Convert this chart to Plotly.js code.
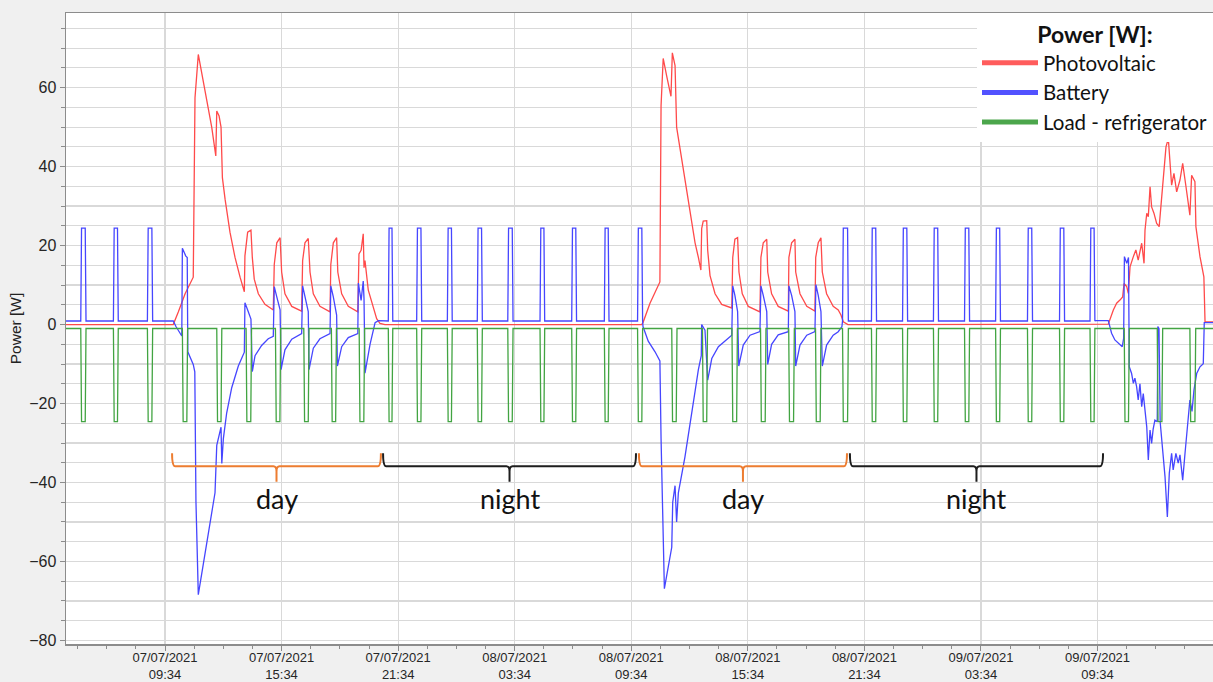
<!DOCTYPE html>
<html><head><meta charset="utf-8">
<script src="https://cdn.plot.ly/plotly-3.0.1.min.js"></script>
<style>html,body{margin:0;padding:0;background:#f0f0f0;}#chart{width:1213px;height:682px;}</style>
</head><body><div id="chart"></div>
<script>
// ---- time axis: hours since 07/07/2021 00:00 ----
const xStart = 4.47, xEnd = 63.51;
const tickHours = [9.5667, 15.5667, 21.5667, 27.5667, 33.5667, 39.5667, 45.5667, 51.5667, 57.5667];
const tickDates = ['07/07/2021','07/07/2021','07/07/2021','08/07/2021','08/07/2021','08/07/2021','08/07/2021','09/07/2021','09/07/2021'];
const tickTimes = ['09:34','15:34','21:34','03:34','09:34','15:34','21:34','03:34','09:34'];

// ---- Load - refrigerator: compressor cycles (start/end, hours) ----
const fridgeStart = [5.23, 6.91, 8.66, 10.46, 12.23, 13.74, 15.25, 16.71, 18.13, 19.56, 21.06, 22.52, 24.10, 25.64, 27.21, 28.87, 30.50, 32.18, 33.89, 35.65, 37.23, 38.75, 40.22, 41.67, 43.05, 44.44, 45.93, 47.53, 49.12, 50.72, 52.32, 53.96, 55.61, 57.18, 58.94, 60.64, 62.32];
const fridgeEnd   = [5.50, 7.16, 8.93, 10.73, 12.49, 14.02, 15.52, 16.98, 18.39, 19.84, 21.29, 22.78, 24.35, 25.90, 27.48, 29.11, 30.75, 32.42, 34.15, 35.92, 37.49, 39.03, 40.50, 41.96, 43.33, 44.74, 46.19, 47.79, 49.38, 50.98, 52.57, 54.22, 55.87, 57.43, 59.20, 60.92, 62.62];
const loadIdle = -1.0, loadRunning = -24.6;

// ---- Battery ----
const batteryIdle = 0.9, batteryFridge = 24.4;
const batteryDay1Time  = [9.99, 10.13, 10.43, 10.46, 10.63, 10.71, 10.74, 11.02, 11.10, 11.16, 11.28, 12.14, 12.23, 12.45, 12.49, 12.57, 12.74, 13.00, 13.34, 13.65, 13.68, 13.82, 13.99, 14.06, 14.20, 14.54, 14.88, 15.14, 15.19, 15.32, 15.49, 15.54, 15.74, 16.09, 16.60, 16.65, 16.77, 16.94, 16.98, 17.20, 17.54, 18.06, 18.10, 18.23, 18.40, 18.44, 18.66, 19.00, 19.49, 19.52, 19.66, 19.77, 19.81, 19.86, 20.12, 20.38, 20.55, 20.89];
const batteryDay1Power = [0.9, -0.5, -2.9, 19.3, 17.4, 17.0, -6.9, -10.1, -12.0, -45, -68.4, -42.6, -30.6, -26.0, -35.2, -28.9, -22.4, -16.0, -10.5, -7.0, 5.5, 3.7, 1.4, -11.9, -7.9, -5.3, -3.6, -3.0, 9.6, 7.0, 3.7, -11.4, -6.4, -3.7, -2.3, 9.8, 7.4, 3.3, -11.4, -6.0, -3.6, -2.3, 9.8, 7.0, 2.4, -10.5, -5.6, -3.3, -2.3, 10.5, 6.1, 11.0, 6.5, -12.3, -5.0, 0.5, 1.0, 0.9];
const batteryDay2Time  = [34.17, 34.44, 34.79, 35.04, 35.10, 35.27, 35.65, 35.70, 35.82, 35.90, 35.99, 36.33, 36.68, 36.85, 37.02, 37.17, 37.19, 37.36, 37.50, 37.71, 38.05, 38.74, 38.79, 38.90, 39.04, 39.10, 39.33, 39.68, 40.19, 40.24, 40.36, 40.54, 40.59, 40.79, 41.13, 41.65, 41.68, 41.82, 41.99, 42.03, 42.25, 42.60, 43.02, 43.07, 43.19, 43.33, 43.40, 43.62, 43.96, 44.22, 44.41];
const batteryDay2Power = [-0.5, -4.2, -6.9, -9.2, -28.9, -66.9, -56.4, -45.0, -40.8, -50.0, -42.6, -33.5, -21.5, -16.9, -11.4, -7.9, 0.0, -1.4, -14.1, -8.6, -5.6, -2.7, 9.8, 7.4, 3.3, -10.5, -5.2, -2.7, -1.8, 9.8, 7.4, 3.3, -10.1, -5.0, -2.6, -1.8, 9.8, 7.4, 3.3, -10.5, -5.2, -2.7, -1.8, 10.1, 7.4, 3.3, -10.5, -5.2, -2.7, -1.8, -0.5];
const batteryDay3Time  = [57.46, 58.12, 58.29, 58.46, 58.72, 58.84, 58.91, 58.95, 59.07, 59.16, 59.20, 59.32, 59.41, 59.49, 59.58, 59.66, 59.75, 59.84, 59.92, 60.01, 60.10, 60.18, 60.27, 60.35, 60.43, 60.52, 60.64, 60.67, 60.73, 60.79, 60.92, 61.04, 61.16, 61.26, 61.38, 61.46, 61.60, 61.72, 61.81, 61.95, 62.07, 62.24, 62.32, 62.43, 62.53, 62.67, 62.84, 63.01, 63.06, 63.51];
const batteryDay3Power = [1.0, 1.0, -2.2, -3.9, -5.2, -5.6, -3.5, 17.2, 15.5, 17.0, -10.7, -12.4, -14.9, -13.6, -15.8, -19.1, -15.0, -20.8, -17.5, -22.5, -25.9, -34.3, -26.7, -30.1, -26.5, -24.2, -24.6, -0.5, -1.0, -24.6, -32.6, -38.5, -48.7, -37.7, -32.6, -36.8, -32.6, -35.1, -33.0, -39.4, -32.6, -24.2, -19.1, -22.0, -16.6, -12.4, -10.7, -9.9, 0.5, 0.5];

// ---- Photovoltaic ----
const pvTime = [4.47, 9.99, 10.25, 10.60, 11.02, 11.11, 11.28, 11.63, 11.97, 12.18, 12.23, 12.35, 12.45, 12.52, 12.66, 12.91, 13.17, 13.43, 13.65, 13.68, 13.82, 13.99, 14.06, 14.16, 14.37, 14.71, 15.14, 15.19, 15.32, 15.49, 15.57, 15.74, 16.09, 16.60, 16.65, 16.77, 16.94, 17.03, 17.20, 17.54, 18.06, 18.10, 18.23, 18.40, 18.46, 18.66, 19.00, 19.49, 19.55, 19.66, 19.77, 19.81, 19.86, 20.03, 20.29, 20.46, 20.63, 20.89,
  34.10, 34.17, 34.53, 34.79, 35.04, 35.10, 35.21, 35.39, 35.61, 35.68, 35.82, 35.90, 36.16, 36.42, 36.68, 36.85, 37.02, 37.15, 37.19, 37.27, 37.45, 37.50, 37.62, 37.88, 38.22, 38.74, 38.79, 38.90, 39.04, 39.11, 39.28, 39.59, 40.19, 40.24, 40.36, 40.54, 40.59, 40.79, 41.13, 41.65, 41.68, 41.82, 41.99, 42.03, 42.25, 42.60, 43.02, 43.06, 43.19, 43.33, 43.40, 43.62, 43.96, 44.22, 44.36, 44.48, 44.72,
  58.12, 58.38, 58.55, 58.72, 58.86, 58.93, 59.07, 59.15, 59.24, 59.41, 59.54, 59.66, 59.84, 59.96, 60.01, 60.10, 60.18, 60.27, 60.35, 60.47, 60.61, 60.74, 60.87, 60.95, 61.09, 61.21, 61.29, 61.38, 61.50, 61.64, 61.81, 61.95, 62.12, 62.32, 62.41, 62.58, 62.63, 62.84, 63.04, 63.10, 63.51];
const pvPower = [0, 0, 3.2, 7.8, 12.0, 57.4, 68.4, 59.2, 50.0, 42.7, 54.1, 52.8, 50.0, 37.2, 31.7, 23.4, 17.0, 12.0, 8.3, 17.4, 23.4, 23.9, 17.0, 11.5, 7.8, 5.1, 3.7, 15.2, 20.7, 22.0, 13.3, 7.8, 4.6, 3.4, 16.2, 20.7, 21.8, 13.3, 7.8, 4.6, 3.2, 15.2, 20.7, 22.0, 13.3, 7.8, 4.6, 3.2, 17.9, 18.8, 23.0, 14.4, 16.2, 8.7, 4.2, 1.5, 0.3, 0,
  0, 0.5, 5.4, 8.0, 10.8, 55.5, 67.4, 62.9, 57.8, 68.8, 65.6, 50.0, 41.8, 33.5, 26.2, 20.7, 17.0, 13.8, 24.3, 26.2, 26.3, 18.8, 12.4, 7.8, 5.1, 4.2, 17.0, 21.6, 22.0, 13.3, 7.8, 4.6, 3.2, 17.0, 20.7, 21.6, 13.3, 7.8, 4.6, 3.4, 17.0, 20.7, 21.6, 13.3, 7.8, 4.6, 3.4, 17.0, 20.7, 22.0, 13.3, 7.8, 4.6, 3.7, 2.4, 0.7, 0,
  0.1, 3.7, 5.4, 6.2, 7.0, 10.4, 9.6, 7.9, 14.6, 17.2, 18.9, 16.3, 20.6, 15.5, 23.9, 28.2, 27.3, 34.9, 29.8, 28.2, 25.6, 24.8, 32.4, 37.4, 45.0, 47.1, 42.5, 35.3, 38.3, 33.6, 36.6, 40.8, 34.9, 27.7, 37.8, 36.2, 24.8, 17.2, 12.1, 0.7, 0.7];

// ---- day / night periods (annotation brackets) ----
const periodStart = [9.93, 20.79, 33.96, 44.82];
const periodEnd   = [20.68, 33.81, 44.67, 57.85];
const periodLabel = ['day', 'night', 'day', 'night'];

// ---------------- build series ----------------
const RAMP = 0.04;
function pulsePoints(base, level, skip) {
  const pts = [];
  for (let i = 0; i < fridgeStart.length; i++) {
    const s = fridgeStart[i], e = fridgeEnd[i];
    if (skip(s)) continue;
    pts.push([s, base], [s + RAMP, level], [e - RAMP, level], [e, base]);
  }
  return pts;
}
function unzip(pts) {
  pts.sort((a, b) => a[0] - b[0]);
  return {x: pts.map(p => p[0]), y: pts.map(p => p[1])};
}
const loadPts = [[xStart, loadIdle]].concat(pulsePoints(loadIdle, loadRunning, () => false), [[xEnd, loadIdle]]);
const load = unzip(loadPts);
const daySegs = [[batteryDay1Time, batteryDay1Power], [batteryDay2Time, batteryDay2Power], [batteryDay3Time, batteryDay3Power]];
const inDay = t => daySegs.some(s => t >= s[0][0] && t <= s[0][s[0].length - 1]);
let batPts = [[xStart, batteryIdle]].concat(pulsePoints(batteryIdle, batteryFridge, inDay));
daySegs.forEach(s => s[0].forEach((t, i) => batPts.push([t, s[1][i]])));
const battery = unzip(batPts);

const redLine = '#ff4a4a', blueLine = '#4646ff', greenLine = '#42a442';
const redLeg = '#ff5c5c', blueLeg = '#5252ff', greenLeg = '#4ca64c';

const traces = [
  {x: pvTime, y: pvPower, mode: 'lines', line: {color: redLine, width: 1.3}, showlegend: false, name: 'Photovoltaic', hoverinfo: 'skip'},
  {x: battery.x, y: battery.y, mode: 'lines', line: {color: blueLine, width: 1.3}, showlegend: false, name: 'Battery', hoverinfo: 'skip'},
  {x: load.x, y: load.y, mode: 'lines', line: {color: greenLine, width: 1.3}, showlegend: false, name: 'Load - refrigerator', hoverinfo: 'skip'},
  {x: [null], y: [null], mode: 'lines', line: {color: redLeg, width: 5}, name: 'Photovoltaic'},
  {x: [null], y: [null], mode: 'lines', line: {color: blueLeg, width: 5}, name: 'Battery'},
  {x: [null], y: [null], mode: 'lines', line: {color: greenLeg, width: 5}, name: 'Load - refrigerator'}
];

const bTop = -32.6, bMid = -35.9, bStem = -37.2, bBot = -39.8, bDx = 0.16, labelY = -44.0;
const shapes = [], annotations = [];
periodStart.forEach((s, i) => {
  const e = periodEnd[i], c = (s + e) / 2;
  const col = periodLabel[i] === 'day' ? '#ed7d31' : '#1e1e1e';
  const path = `M${s},${bTop} Q${s},${bMid} ${s + bDx},${bMid} L${c - bDx},${bMid} Q${c},${bMid} ${c},${bStem} L${c},${bBot} M${c},${bStem} Q${c},${bMid} ${c + bDx},${bMid} L${e - bDx},${bMid} Q${e},${bMid} ${e},${bTop}`;
  shapes.push({type: 'path', xref: 'x', yref: 'y', path: path, line: {color: col, width: 2}});
  annotations.push({x: c, y: labelY, xref: 'x', yref: 'y', text: periodLabel[i], showarrow: false,
    font: {family: 'Lato, sans-serif', size: 27, color: '#111'}, xanchor: 'center', yanchor: 'middle'});
});

const gridCol = '#d9d9d9', axCol = '#8c8c8c';
const yRange = [-80.9, 78.9];
const layout = {
  width: 1213, height: 682,
  margin: {l: 66, r: 0, t: 13, b: 38, pad: 0},
  paper_bgcolor: '#f0f0f0', plot_bgcolor: '#ffffff',
  showlegend: true,
  xaxis: {
    range: [xStart, xEnd], tickmode: 'array', tickvals: tickHours,
    ticktext: tickHours.map((h, i) => tickDates[i] + '<br>' + tickTimes[i]),
    ticks: 'outside', ticklen: 5, tickcolor: axCol, tickwidth: 1, ticklabelstandoff: -4,
    showgrid: true, gridcolor: gridCol, gridwidth: 1.2,
    showline: true, linecolor: axCol, linewidth: 1.5, mirror: true, zeroline: false,
    tickfont: {family: 'Liberation Sans, Arial, sans-serif', size: 13, color: '#262626'},
    minor: {tickmode: 'linear', tick0: 9.5667, dtick: 1.5, ticks: 'outside', ticklen: 3, tickcolor: axCol, showgrid: false},
    fixedrange: true
  },
  yaxis: {
    range: yRange, tick0: 0, dtick: 20, ticks: 'outside', ticklen: 5, tickcolor: axCol,
    showgrid: true, gridcolor: gridCol, gridwidth: 1.2, zeroline: false,
    showline: true, linecolor: axCol, linewidth: 1.5, mirror: true,
    tickfont: {family: 'Liberation Sans, Arial, sans-serif', size: 16, color: '#262626'},
    minor: {dtick: 5, showgrid: true, gridcolor: gridCol, gridwidth: 1.2, ticks: 'outside', ticklen: 4, tickcolor: axCol},
    title: {text: 'Power [W]', font: {family: 'Liberation Sans, Arial, sans-serif', size: 15.5, color: '#222'}, standoff: 3},
    automargin: false, fixedrange: true
  },
  yaxis2: {
    overlaying: 'y', side: 'left', range: yRange, tick0: 0, dtick: 1, ticks: 'outside', ticklen: 2,
    tickcolor: '#b0b0b0', showticklabels: false, showgrid: false, zeroline: false, showline: false, fixedrange: true
  },
  legend: {
    x: 1, xanchor: 'right', y: 1, yanchor: 'top', bgcolor: '#ffffff', borderwidth: 0,
    font: {family: 'Lato, sans-serif', size: 20.5, color: '#111'}, itemwidth: 56,
    title: {text: '<b>Power [W]:</b>', side: 'top center', font: {family: 'Lato, sans-serif', size: 23, color: '#111'}},
    itemclick: false, itemdoubleclick: false
  },
  shapes: shapes,
  annotations: annotations
};
Plotly.newPlot('chart', traces, layout, {displayModeBar: false, staticPlot: true});
</script></body></html>
